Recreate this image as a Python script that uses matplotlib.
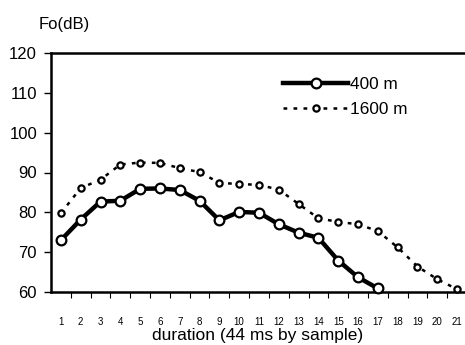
import numpy as np
import matplotlib
matplotlib.use("Agg")
import matplotlib.pyplot as plt

plt.rcParams['font.family'] = ['Liberation Sans', 'DejaVu Sans']

# data
samples = list(range(1, 22))
fo_400 = [73, 78.2, 82.7, 82.9, 85.9, 86, 85.6, 82.9, 78, 80.1, 79.9,
          77, 74.9, 73.6, 67.9, 63.7, 60.9]
fo_1600 = [79.8, 86.1, 88.2, 92.0, 92.5, 92.4, 91.1, 90.1, 87.4, 87.1, 86.9,
           85.7, 82.1, 78.5, 77.6, 77.0, 75.3, 71.2, 66.4, 63.2, 60.7]
yticks = [60, 70, 80, 90, 100, 110, 120]

fig = plt.figure(figsize=(4.65, 3.45), dpi=100)
ax = fig.add_axes([51/465, 1 - 292/345, 1 - 51/465, (292 - 53)/345])

ax.plot(samples[:len(fo_1600)], fo_1600, color="black", lw=1.8,
        linestyle=(0, (1.5, 2.5)), marker="o", ms=4.5, mfc="white",
        mec="black", mew=1.6, label="1600 m", clip_on=False, zorder=3)
ax.plot(samples[:len(fo_400)], fo_400, color="black", lw=3.2,
        marker="o", ms=7, mfc="white", mec="black", mew=1.6,
        label="400 m", clip_on=False, zorder=4)

ax.set_xlim(0.5, 21.4)
ax.set_ylim(60, 120)
ax.set_yticks(yticks)
ax.set_xticks(samples)
ax.set_xticks(np.arange(1.5, 21, 1), minor=True)
ax.tick_params(axis="x", which="major", length=0, pad=18, labelsize=7)
ax.tick_params(axis="x", which="minor", length=4, width=0.8, direction="out")
ax.tick_params(axis="y", which="major", length=5, width=1, direction="out",
               pad=5, labelsize=12)

for s in ["left", "bottom", "top"]:
    ax.spines[s].set_linewidth(1.8)
ax.spines["right"].set_visible(False)

ax.set_xlabel("duration (44 ms by sample)", fontsize=12.5, labelpad=1)
fig.text(39/465, 1 - 24/345, "Fo(dB)", fontsize=12, va="center", ha="left")

handles, labels = ax.get_legend_handles_labels()
leg = ax.legend(handles[::-1], labels[::-1], loc="upper left",
                bbox_to_anchor=(283/465, 1 - 77/345),
                bbox_transform=fig.transFigure, frameon=False, fontsize=12.4,
                handlelength=3.8, handletextpad=0.1, labelspacing=0.6,
                numpoints=1, borderpad=0, borderaxespad=0)

fig.savefig("out.png", dpi=100)
